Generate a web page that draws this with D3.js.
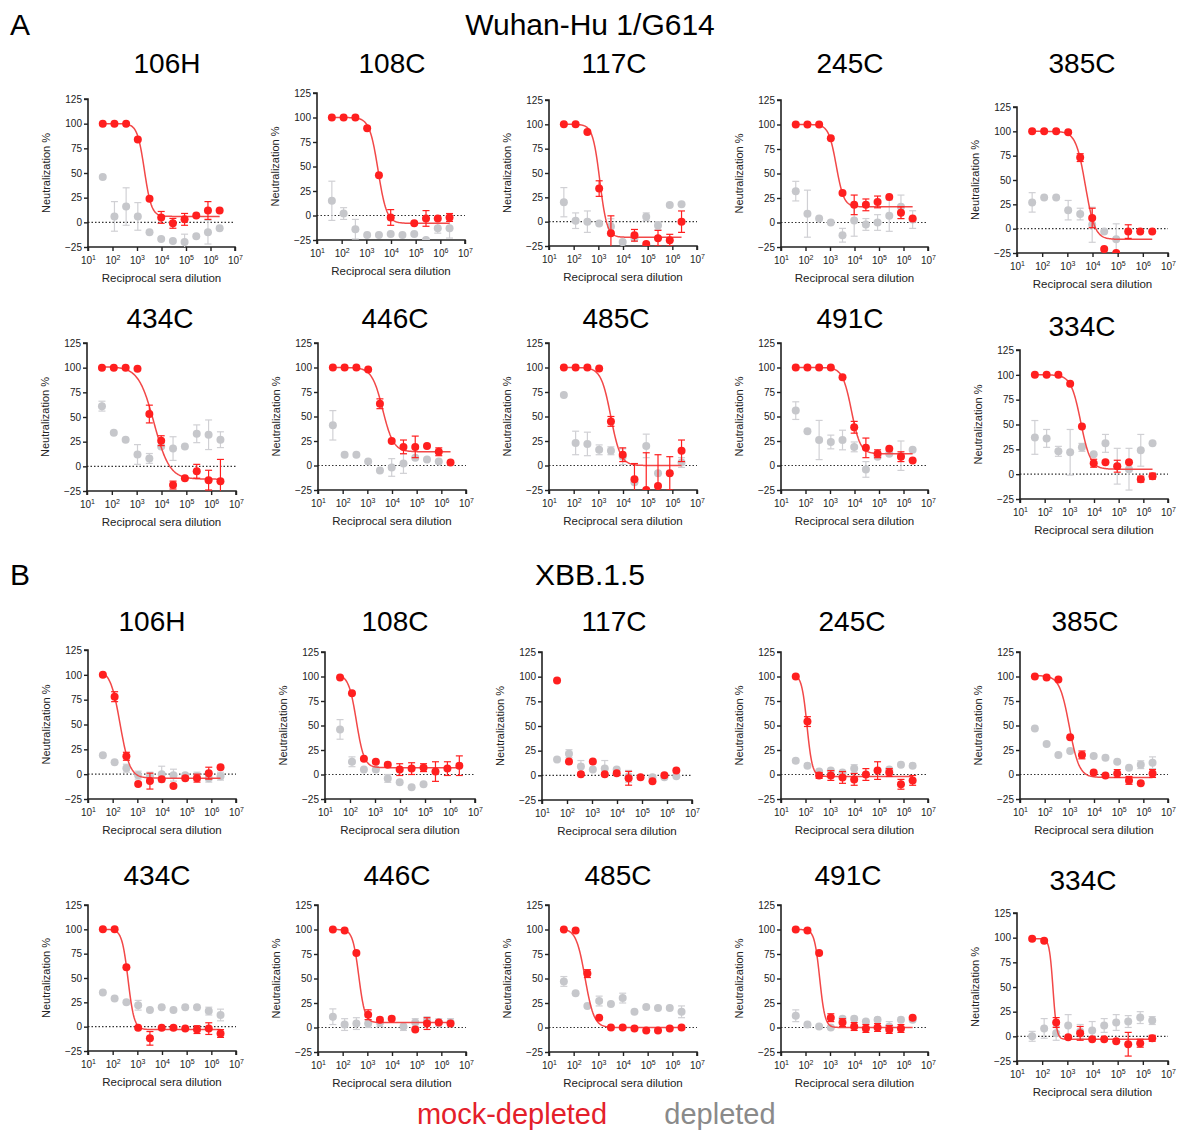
<!DOCTYPE html>
<html><head><meta charset="utf-8">
<script src="https://cdn.jsdelivr.net/npm/d3@7"></script>
<style>body{margin:0;background:#fff}svg{display:block;font-family:"Liberation Sans",Arial,sans-serif}</style>
</head><body><svg id="c" width="1177" height="1131"></svg>
<script>
const dilutions = [40,120,360,1080,3240,9720,29160,87480,262440,787320,2361960];
const xTickExps = [1,2,3,4,5,6,7];
const yTicks = [-25,0,25,50,75,100,125];
const sectionNames = ["Wuhan-Hu 1/G614","XBB.1.5"];
const sectionLetters = ["A","B"];
const panelNames = ["106H","108C","117C","245C","385C","434C","446C","485C","491C","334C",
                    "106H","108C","117C","245C","385C","434C","446C","485C","491C","334C"];
const n = null;
const mockValues = [
 [100,100,100,84,24,5,-1,3,7,12,12],
 [100,100,100,89,41,-2,n,-8,-3,-3,-2],
 [100,100,92,34,-12,n,-14,-23,-17,-19,0],
 [100,100,100,86,30,18,18,21,26,10,4],
 [100,100,100,99,73,11,-21,-25,-3,-3,-3],
 [100,100,100,99,53,26,-19,-12,-5,-14,-15],
 [100,100,100,98,63,25,19,19,20,14,3],
 [100,100,100,99,45,11,-14,-25,-21,-8,15],
 [100,100,100,100,90,39,18,12,17,9,5],
 [100,100,100,91,48,11,12,8,12,-5,-2],
 [100,78,18,-10,-7,-5,-12,-4,-4,1,7],
 [99,83,16,13,10,5,6,7,3,6,9],
 [96,14,1,14,1,2,-3,-2,-6,0,5],
 [100,54,-1,-1,-3,-5,0,4,2,-10,-6],
 [100,99,97,38,20,2,-1,1,-6,-9,1],
 [100,100,61,-1,-12,-1,-1,-2,-3,-2,-7],
 [100,99,76,13,8,9,n,-2,4,5,4],
 [100,99,55,10,0,0,-1,-3,-3,-1,0],
 [100,99,76,10,5,1,-1,0,-2,-1,10],
 [99,97,14,-1,3,-3,-3,-5,-8,-7,-2]
];
const mockErrors = [
 [0,0,0,0,0,6,5,6,0,9,0],
 [0,0,0,0,0,8,0,0,8,0,4],
 [0,0,0,8,18,0,6,0,8,6,11],
 [0,0,0,0,0,10,6,6,0,6,0],
 [0,0,0,0,4,10,0,0,7,0,0],
 [0,0,0,0,9,5,4,0,7,10,22],
 [0,0,0,0,5,0,7,11,0,4,0],
 [0,0,0,0,5,7,16,38,32,17,11],
 [0,0,0,0,0,6,10,4,0,5,0],
 [0,0,0,0,0,4,0,6,0,3,3],
 [0,5,4,0,8,0,0,0,4,6,0],
 [0,0,0,0,0,6,6,4,10,7,10],
 [0,0,0,0,0,0,7,0,0,0,0],
 [0,5,3,5,6,6,6,9,4,5,5],
 [0,0,0,0,4,0,0,4,4,0,4],
 [0,0,0,0,7,0,0,0,4,6,4],
 [0,0,0,5,0,0,0,0,6,0,0],
 [0,0,4,0,0,0,0,0,0,0,0],
 [0,0,0,4,4,4,4,4,4,4,0],
 [0,0,5,0,7,0,0,0,12,4,3]
];
const depletedValues = [
 [46,6,16,6,-10,-17,-19,-20,-14,-10,-6],
 [15,2,-14,-20,-20,-19,-20,-19,-25,-13,-13],
 [20,1,0,-2,-5,-21,-17,5,-4,17,18],
 [32,9,4,0,-13,2,-2,0,7,16,3],
 [27,32,32,19,15,4,-3,-11,n,n,n],
 [61,34,27,12,8,20,18,20,33,32,27],
 [41,11,11,4,-5,-2,2,8,6,4,n],
 [72,23,22,16,15,9,-17,20,-8,n,3],
 [56,35,26,24,26,19,-4,9,12,10,16],
 [37,36,23,22,27,20,31,8,5,24,31],
 [19,12,6,-1,-2,0,-1,-1,-2,-4,-2],
 [46,13,5,5,-4,-8,-13,-10,n,n,n],
 [16,22,9,6,7,6,-1,n,-2,-2,-1],
 [14,9,3,4,2,6,n,n,5,10,9],
 [47,31,20,24,n,19,17,13,7,10,12],
 [35,29,25,22,17,20,17,20,20,16,12],
 [11,3,4,4,5,n,1,5,7,5,5],
 [47,35,22,27,24,30,16,21,20,20,16],
 [12,3,1,0,9,9,6,8,1,8,8],
 [0,8,3,11,5,6,11,14,15,19,16]
];
const depletedErrors = [
 [0,15,19,14,0,0,0,8,0,12,0],
 [20,6,10,0,0,0,0,0,0,5,10],
 [15,8,11,0,8,0,0,4,4,0,0],
 [10,24,0,0,7,16,6,8,16,12,9],
 [10,0,0,10,6,18,0,16,0,0,0],
 [5,0,0,10,5,0,12,0,9,15,8],
 [15,0,0,0,0,9,10,0,0,0,0],
 [0,12,12,5,4,8,0,12,0,0,5],
 [9,0,20,7,10,5,8,0,0,15,0],
 [17,9,5,23,4,0,9,18,21,16,0],
 [0,0,4,4,4,8,6,0,4,4,4],
 [10,5,0,0,4,0,0,0,0,0,0],
 [0,4,6,0,8,0,6,0,0,0,0],
 [0,0,0,0,0,4,0,0,0,0,0],
 [0,0,0,0,0,0,0,0,0,4,6],
 [0,0,0,5,0,0,0,0,0,4,6],
 [8,6,6,4,4,0,4,4,4,4,4],
 [5,0,0,5,0,5,0,0,0,0,6],
 [6,0,0,0,0,0,0,0,5,0,0],
 [5,10,7,11,7,9,7,8,6,6,4]
];
// fitted 4PL curve parameters: top, bottom, IC50, hill (null = no fit)
const fitTop    = [100,100,100,100,100,101,100,100,100,100,105,102,n,102,101,100,100,101,100,99];
const fitBottom = [6,-8,-16,16,-11,-13,14,0,12,5,-4,7,n,-2,-3,-3,5,0,0,-3];
const fitIC50   = [2000,3000,1150,1800,5200,5000,4200,3200,7500,2900,200,180,n,115,1000,420,450,290,380,270];
const fitHill   = [3,2.5,3,2.8,2.3,1.4,2,2.2,2.4,2.2,2.2,2.8,n,4,2.2,3.5,3.5,2.4,4,6];

// layout: y-axis x, y(125), y(-25), x-axis end, title x, title y
const layout = [
 [88,99,247,235,167,63],[317,93,240,465,392,63],[549,100,246,697,614,63],[781,100,247,928,850,63],[1017,107,253,1168,1082,63],
 [87,343,491,236,160,318],[318,343,490,466,395,318],[549,343,490,697,616,318],[781,343,490,928,850,318],[1020,350,499,1168,1082,326],
 [88,650,799,236,152,621],[325,652,799,475,395,621],[542,652,800,692,614,621],[781,652,799,928,852,621],[1020,652,799,1168,1085,621],
 [88,905,1051,236,157,875],[318,905,1052,466,397,875],[549,905,1052,697,618,875],[781,905,1052,928,848,875],[1017,913,1061,1168,1083,880]
];

const RED = "#ff1f1f", RED_LINE = "#f24848", GRAY = "#c6c7cb", GRAY_ERR = "#d0d0d4";
const svg = d3.select("#c");

// section headers
[[24,10],[574,10]].forEach((p,i)=>{
  svg.append("text").attr("x",p[1]).attr("y",p[0]).attr("dy","0.35em").attr("font-size",30).text(sectionLetters[i]);
  svg.append("text").attr("x",590).attr("y",p[0]).attr("dy","0.35em").attr("text-anchor","middle").attr("font-size",30).text(sectionNames[i]);
});

panelNames.forEach((name,i)=>{
  const [ax,yt,yb,xe,tx,ty] = layout[i];
  const x = d3.scaleLog().domain([10,1e7]).range([ax,xe]);
  const y = d3.scaleLinear().domain([-25,125]).range([yb,yt]);
  const g = svg.append("g");

  g.append("text").attr("x",tx).attr("y",ty).attr("dy","0.35em").attr("text-anchor","middle").attr("font-size",28).text(name);

  // dotted zero line
  g.append("line").attr("x1",ax).attr("x2",xe).attr("y1",y(0)).attr("y2",y(0))
    .attr("stroke","#333").attr("stroke-width",1.2).attr("stroke-dasharray","1.5,2");

  // axes
  const yAxis = d3.axisLeft(y).tickValues(yTicks).tickSize(4).tickPadding(2);
  const ya = g.append("g").attr("transform",`translate(${ax},0)`).call(yAxis);
  const xAxis = d3.axisBottom(x).tickValues(xTickExps.map(e=>Math.pow(10,e))).tickSize(4).tickPadding(3).tickFormat("");
  const xa = g.append("g").attr("transform",`translate(0,${yb})`).call(xAxis);
  [ya,xa].forEach(a=>{
    a.select(".domain").attr("stroke","#222").attr("stroke-width",1.6);
    a.selectAll(".tick line").attr("stroke","#222").attr("stroke-width",1.4);
    a.selectAll("text").attr("font-size",10).attr("fill","#222").attr("font-family","'Liberation Sans',Arial,sans-serif");
  });
  ya.select(".domain").attr("d",`M-4,${yt}H0V${yb}`);
  xa.select(".domain").attr("d",`M${ax},4V0H${xe}V4`);
  xa.selectAll(".tick").each(function(d){
    const t = d3.select(this).append("text").attr("y",17).attr("text-anchor","middle")
      .attr("font-size",10).attr("fill","#222");
    t.append("tspan").text("10");
    t.append("tspan").attr("dy",-4).attr("font-size",7).text(Math.round(Math.log10(d)));
  });

  g.append("text").attr("transform",`translate(${ax-38},${(yt+yb)/2}) rotate(-90)`)
    .attr("text-anchor","middle").attr("font-size",11).attr("fill","#222").text("Neutralization %");
  g.append("text").attr("x",(ax+xe)/2).attr("y",yb+35).attr("text-anchor","middle")
    .attr("font-size",11.5).attr("fill","#222").text("Reciprocal sera dilution");

  const clipId = "clip"+i;
  g.append("clipPath").attr("id",clipId).append("rect").attr("x",ax).attr("y",yt-10).attr("width",xe-ax+5).attr("height",yb-yt+10);
  const plot = g.append("g").attr("clip-path",`url(#${clipId})`);

  function series(vals, errs, col, ecol){
    const pts = dilutions.map((d,j)=>({d, v:vals[j], e:errs[j]})).filter(p=>p.v!==null);
    const eb = plot.append("g").attr("stroke",ecol).attr("stroke-width",1.2).attr("fill","none");
    pts.filter(p=>p.e>0).forEach(p=>{
      const cx = x(p.d), y1 = y(p.v+p.e), y2 = y(p.v-p.e);
      eb.append("line").attr("x1",cx).attr("x2",cx).attr("y1",y1).attr("y2",y2);
      eb.append("line").attr("x1",cx-3.5).attr("x2",cx+3.5).attr("y1",y1).attr("y2",y1);
      eb.append("line").attr("x1",cx-3.5).attr("x2",cx+3.5).attr("y1",y2).attr("y2",y2);
    });
    plot.append("g").selectAll("circle").data(pts).join("circle")
      .attr("cx",p=>x(p.d)).attr("cy",p=>y(p.v)).attr("r",4).attr("fill",col);
  }
  series(depletedValues[i], depletedErrors[i], GRAY, GRAY_ERR);

  if (fitTop[i] !== null){
    const lo = Math.log10(dilutions[0]), hi = Math.log10(dilutions[dilutions.length-1]);
    const xs = d3.range(0,201).map(k=>Math.pow(10, lo + (hi-lo)*k/200));
    const f = d => fitBottom[i] + (fitTop[i]-fitBottom[i])/(1+Math.pow(d/fitIC50[i], fitHill[i]));
    plot.append("path").datum(xs).attr("fill","none").attr("stroke",RED_LINE).attr("stroke-width",1.5)
      .attr("d", d3.line().x(d=>x(d)).y(d=>y(f(d))));
  }
  series(mockValues[i], mockErrors[i], RED, RED);
});

svg.append("text").attr("x",512).attr("y",1114).attr("dy","0.35em").attr("text-anchor","middle")
  .attr("font-size",29).attr("fill","#e4202a").text("mock-depleted");
svg.append("text").attr("x",720).attr("y",1114).attr("dy","0.35em").attr("text-anchor","middle")
  .attr("font-size",29).attr("fill","#8a8a8a").text("depleted");
</script></body></html>
